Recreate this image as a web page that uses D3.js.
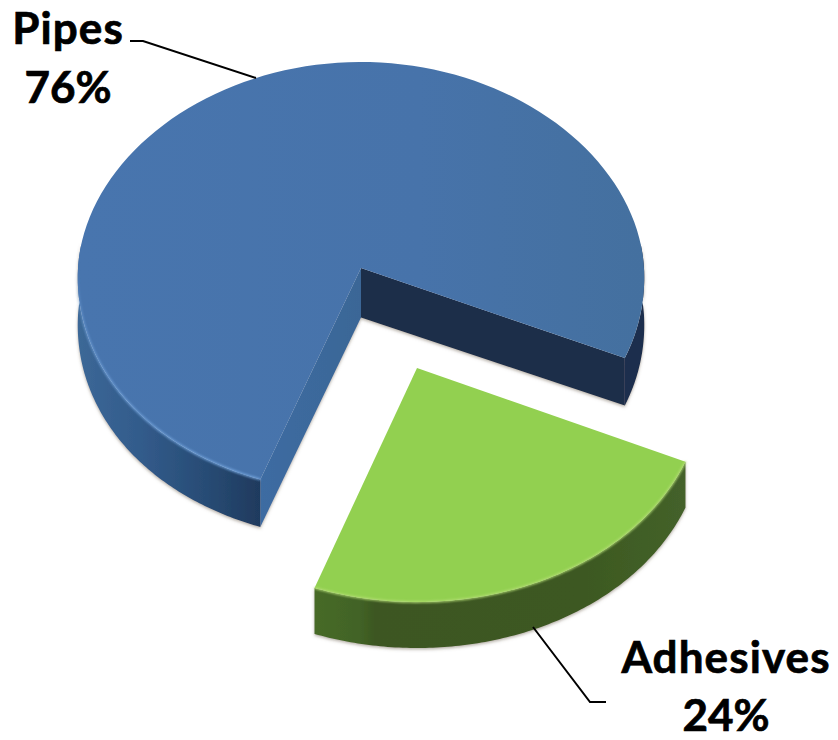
<!DOCTYPE html>
<html>
<head>
<meta charset="utf-8">
<script src="https://cdn.jsdelivr.net/npm/d3@7/dist/d3.min.js"></script>
<style>html,body{margin:0;padding:0;background:#fff}svg{display:block}</style>
</head>
<body>
<div id="chart"></div>
<script>
const categories = ["Adhesives", "Pipes"];
const values = [24, 76];
const percentLabels = ["24%", "76%"];

const W = 838, H = 740;
const svg = d3.select("#chart").append("svg").attr("width", W).attr("height", H);
const defs = svg.append("defs");

const startAngle = 113.6 * Math.PI / 180;
const arcs = d3.pie().sort(null).value(d => d)
  .startAngle(startAngle).endAngle(startAngle + 2 * Math.PI)(values);

// elliptical, slightly perspective projection of a tilted disc
function projector(g) {
  const unit = d3.scaleLinear().domain([0, 1]);
  const xs = unit.copy().range([0, g.rx]);
  const yTop = unit.copy().range([0, g.ryTop]);
  const yBot = unit.copy().range([0, g.ryBot]);
  const near = d3.scaleLinear().domain([-1, 1]).range([0.957, 1.043]);
  return (a, drop = 0) => {
    const s = Math.sin(a), c = Math.cos(a);
    return [g.cx + xs(s) * near(-c), g.cy + (c >= 0 ? -yTop(c) : yBot(-c)) + drop];
  };
}
const shapes = [
  { cx: 417, cy: 368, rx: 288, ryTop: 220, ryBot: 234, depth: 46, top: "#92d050", rim: "#b4de74" },
  { cx: 361, cy: 268, rx: 283, ryTop: 206, ryBot: 225, depth: 47.5, top: "#4773aa", rim: "#74a5de" }
];
const angleRange = (a0, a1) => d3.range(0, 121).map(i => d3.interpolateNumber(a0, a1)(i / 120));
const line = d3.line();

function grad(id, stops, x1, x2, y1 = 0, y2 = 0) {
  const g = defs.append("linearGradient").attr("id", id)
    .attr("gradientUnits", "userSpaceOnUse")
    .attr("x1", x1).attr("x2", x2).attr("y1", y1).attr("y2", y2);
  stops.forEach(([o, c, op]) => g.append("stop").attr("offset", o).attr("stop-color", c)
    .attr("stop-opacity", op === undefined ? 1 : op));
}
grad("blueWall", [[0, "#3c6897"], [0.35, "#325b8b"], [0.7, "#284c75"], [1, "#1f3a5e"]], 77, 260);
grad("blueTop", [[0, "#4875ae"], [0.6, "#4773aa"], [1, "#44709f"]], 77, 645);
grad("blueCut", [[0, "#3d6ca2"], [1, "#3a6696"]], 260, 361);
grad("blueRim", [[0, "#74a5de", 0], [0.25, "#74a5de", 0.7], [1, "#74a5de", 1]], 0, 0, 270, 480);
grad("greenWall", [[0, "#466a27"], [0.12, "#426326"], [0.16, "#3c5721"], [0.7, "#3c5820"], [1, "#44622a"]], 315, 687);

const sh = defs.append("filter").attr("id", "shadow")
  .attr("x", "-10%").attr("y", "-10%").attr("width", "120%").attr("height", "120%");
sh.append("feDropShadow").attr("dx", 0).attr("dy", 1.5).attr("stdDeviation", 1.6)
  .attr("flood-color", "#6b5f4f").attr("flood-opacity", 0.5);
const soft = defs.append("filter").attr("id", "soft")
  .attr("x", "-5%").attr("y", "-5%").attr("width", "110%").attr("height", "110%");
soft.append("feGaussianBlur").attr("stdDeviation", 0.8);

const wallPath = (p, a0, a1, depth) => line([
  ...angleRange(a0, a1).map(a => p(a)),
  ...angleRange(a1, a0).map(a => p(a, depth))
]);

// ---------- Pipes ----------
{
  const g = shapes[1], p = projector(g), d = arcs[1];
  const a0 = d.startAngle, a1 = d.endAngle;
  const c0 = [g.cx, g.cy], c1 = [g.cx, g.cy + g.depth + 2];
  const base = svg.append("g").attr("filter", "url(#shadow)");
  // right sliver of wall (runs from the rightmost point to the cut edge)
  base.append("path").attr("d", wallPath(p, 2.5 * Math.PI - 0.12, a1, g.depth)).attr("fill", "#1b2f4d");
  // far cut face
  base.append("path").attr("d", line([c0, p(a1), p(a1, g.depth), c1])).attr("fill", "#1a2d4a");
  // near cut face
  base.append("path").attr("d", line([c0, p(a0), p(a0, g.depth), c1])).attr("fill", "url(#blueCut)");
  // outer wall on the left
  base.append("path").attr("d", wallPath(p, a0, 1.5 * Math.PI + 0.12, g.depth)).attr("fill", "url(#blueWall)");
  // top face
  svg.append("path").attr("d", line([c0, ...angleRange(a0, a1).map(a => p(a))]) + "Z").attr("fill", "url(#blueTop)");
  // bevel highlight
  svg.append("path").attr("d", line(angleRange(a0, 1.5 * Math.PI).map(a => p(a))))
    .attr("fill", "none").attr("stroke", "url(#blueRim)").attr("stroke-width", 2).attr("filter", "url(#soft)");
}

// ---------- Adhesives ----------
{
  const g = shapes[0], p = projector(g), d = arcs[0];
  const a0 = d.startAngle, a1 = d.endAngle;
  const c0 = [g.cx, g.cy];
  const base = svg.append("g").attr("filter", "url(#shadow)");
  base.append("path").attr("d", wallPath(p, a0, a1, g.depth)).attr("fill", "url(#greenWall)");
  svg.append("path").attr("d", line([c0, ...angleRange(a0, a1).map(a => p(a))]) + "Z").attr("fill", g.top);
  svg.append("path").attr("d", line(angleRange(a0, a1).map(a => p(a))))
    .attr("fill", "none").attr("stroke", g.rim).attr("stroke-width", 1.8).attr("filter", "url(#soft)");
}

// ---------- Leader lines ----------
const leaders = [
  [[606, 702], [590, 702], [533, 627]],
  [[130, 41], [143, 41], [256, 78]]
];
svg.append("g").selectAll("path").data(leaders).join("path")
  .attr("d", d => line(d)).attr("fill", "none").attr("stroke", "#000").attr("stroke-width", 2);

// ---------- Labels ----------
const labelPos = [
  { x: 726, y1: 673, y2: 730.5 },
  { x: 68, y1: 43.5, y2: 103 }
];
const labels = svg.append("g")
  .attr("font-family", "Lato, 'Open Sans', sans-serif")
  .attr("font-weight", 700).attr("font-size", 44).attr("text-anchor", "middle")
  .attr("fill", "#000").attr("stroke", "#000").attr("stroke-width", 0.7);
categories.forEach((c, i) => {
  labels.append("text").attr("x", labelPos[i].x).attr("y", labelPos[i].y1).attr("letter-spacing", 1.1).text(c);
  labels.append("text").attr("x", labelPos[i].x).attr("y", labelPos[i].y2).text(percentLabels[i]);
});
</script>
</body>
</html>
